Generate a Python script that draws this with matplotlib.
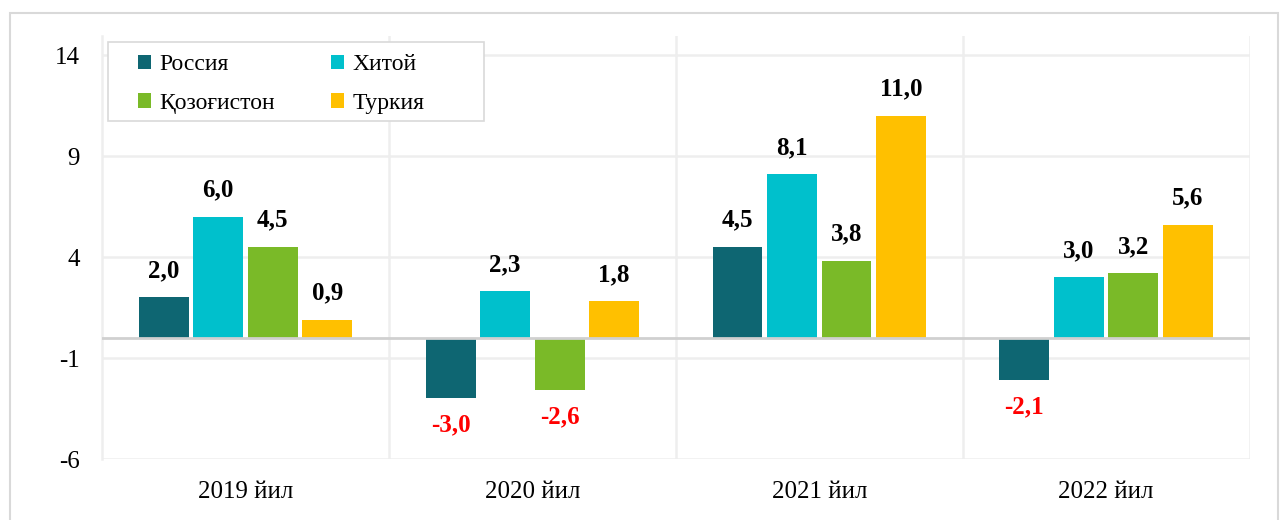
import numpy as np
import matplotlib.pyplot as plt
from matplotlib.patches import Rectangle

plt.rcParams['font.family'] = ['Liberation Serif', 'DejaVu Serif']

years = ['2019 йил', '2020 йил', '2021 йил', '2022 йил']
countries = ['Россия', 'Хитой', 'Қозоғистон', 'Туркия']
russia = [2.0, -3.0, 4.5, -2.1]
china = [6.0, 2.3, 8.1, 3.0]
kazakh = [4.5, -2.6, 3.8, 3.2]
turkey = [0.9, 1.8, 11.0, 5.6]
series = [russia, china, kazakh, turkey]
colors = ['#0e6672', '#00c0cc', '#7aba28', '#ffc000']

fig = plt.figure(figsize=(12.83, 5.2), dpi=100)
ax = fig.add_axes([0.0795, 0.1173, 0.8945, 0.8137])

# outer frame of the chart
fig.patches.append(Rectangle((10 / 1283, -0.02), 1268 / 1283, 1 - 13 / 520 + 0.02,
                             transform=fig.transFigure, fill=False,
                             edgecolor='#d9d9d9', linewidth=1.5))

x = np.arange(len(years))
width = 0.174
step = 0.19
bars = []
for j, (vals, name, col) in enumerate(zip(series, countries, colors)):
    pos = x + (j - 1.5) * step
    bars.append(ax.bar(pos, vals, width, color=col, label=name, zorder=3))
    for p, v in zip(pos, vals):
        txt = '{:.1f}'.format(v).replace('.', ',')
        if v >= 0:
            ax.annotate(txt, (p, v), xytext=(0, 11), textcoords='offset points',
                        ha='center', va='bottom', fontsize=18, fontweight='bold',
                        color='black')
        else:
            ax.annotate(txt, (p, v), xytext=(0, -11), textcoords='offset points',
                        ha='center', va='top', fontsize=18, fontweight='bold',
                        color='red')

ax.set_xlim(-0.5, 3.5)
ax.set_ylim(-6, 14.95)
ax.set_yticks([-6, -1, 4, 9, 14])
ax.set_yticklabels(['-6', '-1', '4', '9', '14'])
ax.set_xticks(x)
ax.set_xticklabels(years)
ax.tick_params(axis='both', length=0, labelsize=18)
ax.tick_params(axis='y', pad=16)
ax.tick_params(axis='x', pad=16)

for yv in [-6, -1, 4, 9, 14]:
    ax.axhline(yv, color='#eeeeee', linewidth=1.8, zorder=1)
for xv in [0.5, 1.5, 2.5, 3.5]:
    ax.axvline(xv, color='#eeeeee', linewidth=1.8, zorder=1)
ax.axhline(0, color='#d0d0d0', linewidth=2, zorder=4)

for side in ['top', 'right', 'bottom']:
    ax.spines[side].set_visible(False)
ax.spines['left'].set_color('#eeeeee')
ax.spines['left'].set_linewidth(1.8)

# legend frame drawn separately so its padding matches the original
ax.add_patch(Rectangle((0.005, 0.799), 0.328, 0.187, transform=ax.transAxes,
                       facecolor='white', edgecolor='#d9d9d9', linewidth=1.2,
                       zorder=5))

# legend reads row-wise: Россия, Хитой / Қозоғистон, Туркия
order = [0, 2, 1, 3]
leg = ax.legend([bars[i] for i in order], [countries[i] for i in order],
                loc='upper left', bbox_to_anchor=(0.021, 0.985), ncol=2,
                fontsize=17, frameon=False,
                handlelength=0.55, handleheight=0.55, handletextpad=0.35,
                columnspacing=2.4, borderpad=0.5, labelspacing=0.75,
                borderaxespad=0)
leg.set_zorder(6)

fig.savefig('out.png', dpi=100, facecolor='white')
